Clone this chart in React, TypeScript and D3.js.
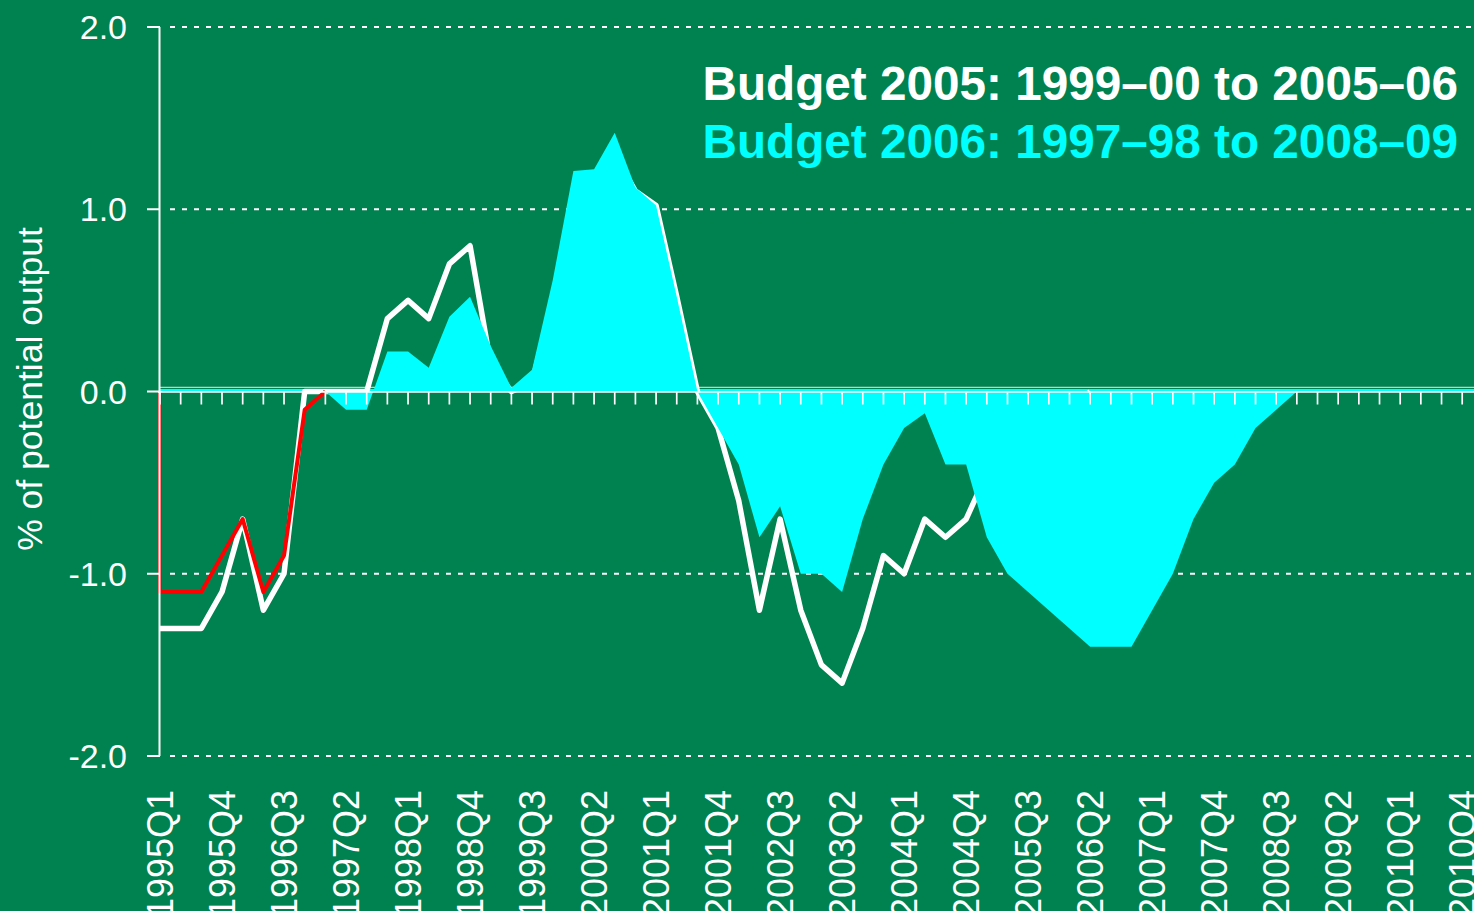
import React from "react";
import * as d3 from "d3";

// ---------- data ----------
const years = d3.range(1995, 2011);
const quarters: string[] = [];
years.forEach((yr) => [1, 2, 3, 4].forEach((q) => quarters.push(`${yr}Q${q}`)));

const tickLabels = [
  "1995Q1", "1995Q4", "1996Q3", "1997Q2", "1998Q1", "1998Q4", "1999Q3", "2000Q2",
  "2001Q1", "2001Q4", "2002Q3", "2003Q2", "2004Q1", "2004Q4", "2005Q3", "2006Q2",
  "2007Q1", "2007Q4", "2008Q3", "2009Q2", "2010Q1", "2010Q4",
];

const yTicks = [2, 1, 0, -1, -2];
const yTickLabels = ["2.0", "1.0", "0.0", "-1.0", "-2.0"];

// Budget 2006: 1997–98 to 2008–09 (cyan area), 1995Q1..2010Q4
const budget2006 = [
  0, 0, 0, 0, 0, 0, 0, 0, 0, -0.1, -0.1, 0.22, 0.22, 0.13, 0.41, 0.52,
  0.25, 0.02, 0.12, 0.61, 1.21, 1.22, 1.42, 1.12, 1.02, 0.52, 0.0, -0.2, -0.4, -0.8, -0.63, -1.0,
  -1.0, -1.1, -0.7, -0.4, -0.2, -0.12, -0.4, -0.4, -0.8, -1.0, -1.1, -1.2, -1.3, -1.4, -1.4, -1.4,
  -1.2, -1.0, -0.7, -0.5, -0.4, -0.2, -0.1, 0, 0, 0, 0, 0, 0, 0, 0, 0,
];

// Budget 2005: 1999–00 to 2005–06 (white line), 1995Q1..2006Q1
const budget2005 = [
  -1.3, -1.3, -1.3, -1.1, -0.7, -1.2, -1.0, 0.0, 0.0, 0.0, 0.0, 0.4, 0.5, 0.4, 0.7, 0.8,
  0.15, 0.0, 0.05, 0.5, 1.1, 1.1, 1.3, 1.1, 1.02, 0.52, 0.0, -0.2, -0.6, -1.2, -0.7, -1.2,
  -1.5, -1.6, -1.3, -0.9, -1.0, -0.7, -0.8, -0.7, -0.45, -0.4, -0.3, -0.2, -0.1, 0.0,
];

// earlier estimate (red line), 1995Q1..1997Q1
const earlier = [-1.1, -1.1, -1.1, -0.9, -0.7, -1.1, -0.9, -0.1, 0.0];

const legend1 = "Budget 2005: 1999\u201300 to 2005\u201306";
const legend2 = "Budget 2006: 1997\u201398 to 2008\u201309";
const yTitle = "% of potential output";

// ---------- styles ----------
const W = 1474;
const H = 911;
const BG = "#008250";
const CYAN = "#00FFFF";
const FONT = "'Liberation Sans', Arial, Helvetica, sans-serif";

export default function App() {
  const x = d3.scalePoint<string>().domain(quarters).range([160, 1462.2]);
  const y = d3.scaleLinear().domain([-2, 2]).range([756, 27]);
  const y0 = y(0);

  const area = d3
    .area<number>()
    .x((_, i) => x(quarters[i]) as number)
    .y0(y0)
    .y1((d) => y(d));

  const line = d3
    .line<number>()
    .x((_, i) => x(quarters[i]) as number)
    .y((d) => y(d));

  const redPts: [number, number][] = [[x(quarters[0]) as number, y0]].concat(
    earlier.map((v, i) => [x(quarters[i]) as number, y(v)] as [number, number])
  ) as [number, number][];
  const redLine = d3.line<[number, number]>()(redPts) || "";

  return (
    <svg
      width={W}
      height={H}
      style={{ position: "absolute", left: 0, top: 0, display: "block" }}
      fontFamily={FONT}
    >
      <rect x={0} y={0} width={W} height={H} fill={BG} />

      {/* dotted gridlines */}
      {yTicks
        .filter((t) => t !== 0)
        .map((t) => (
          <line
            key={`g${t}`}
            x1={170}
            x2={W}
            y1={y(t)}
            y2={y(t)}
            stroke="#ffffff"
            strokeWidth={2}
            strokeDasharray="5 7"
          />
        ))}

      {/* zero-line strips */}
      <line x1={160} x2={W} y1={y0 - 4.2} y2={y0 - 4.2} stroke="#b9d6c6" strokeWidth={1.3} />
      <line x1={160} x2={W} y1={y0 - 1.5} y2={y0 - 1.5} stroke={CYAN} strokeWidth={2} />

      {/* Budget 2005 white line (under the area) */}
      <path d={line(budget2005) || ""} fill="none" stroke="#ffffff" strokeWidth={5.5} strokeLinejoin="round" />

      {/* Budget 2006 cyan area */}
      <path d={area(budget2006) || ""} fill={CYAN} stroke="none" />

      {/* earlier red line */}
      <path d={redLine} fill="none" stroke="#ff0000" strokeWidth={4} strokeLinejoin="round" />

      {/* x axis at zero */}
      <line x1={158} x2={W} y1={y0 + 0.4} y2={y0 + 0.4} stroke="#ffffff" strokeWidth={1.8} />
      {quarters.map((q) => (
        <line
          key={`t${q}`}
          x1={x(q)}
          x2={x(q)}
          y1={y0}
          y2={y0 + 13}
          stroke="#ffffff"
          strokeWidth={1.7}
        />
      ))}

      {/* y axis */}
      <line x1={159.5} x2={159.5} y1={y(2)} y2={y(-2)} stroke="#ffffff" strokeWidth={2} />
      {yTicks.map((t, i) => (
        <g key={`y${t}`}>
          <line x1={147} x2={160} y1={y(t)} y2={y(t)} stroke="#ffffff" strokeWidth={2} />
          <text x={127} y={y(t) + 12} fill="#ffffff" fontSize={34} textAnchor="end">
            {yTickLabels[i]}
          </text>
        </g>
      ))}

      {/* x labels */}
      {tickLabels.map((lab) => (
        <text
          key={`xl${lab}`}
          transform={`translate(${(x(lab) as number) + 12.5},790) rotate(-90)`}
          fill="#ffffff"
          fontSize={36}
          textAnchor="end"
        >
          {lab}
        </text>
      ))}

      {/* y title */}
      <text
        transform={`translate(42,389) rotate(-90)`}
        fill="#ffffff"
        fontSize={35.5}
        textAnchor="middle"
      >
        {yTitle}
      </text>

      {/* legend */}
      <text x={1458} y={100} fill="#ffffff" fontSize={47.7} fontWeight="bold" textAnchor="end">
        {legend1}
      </text>
      <text x={1458} y={158} fill={CYAN} fontSize={47.7} fontWeight="bold" textAnchor="end">
        {legend2}
      </text>
    </svg>
  );
}
